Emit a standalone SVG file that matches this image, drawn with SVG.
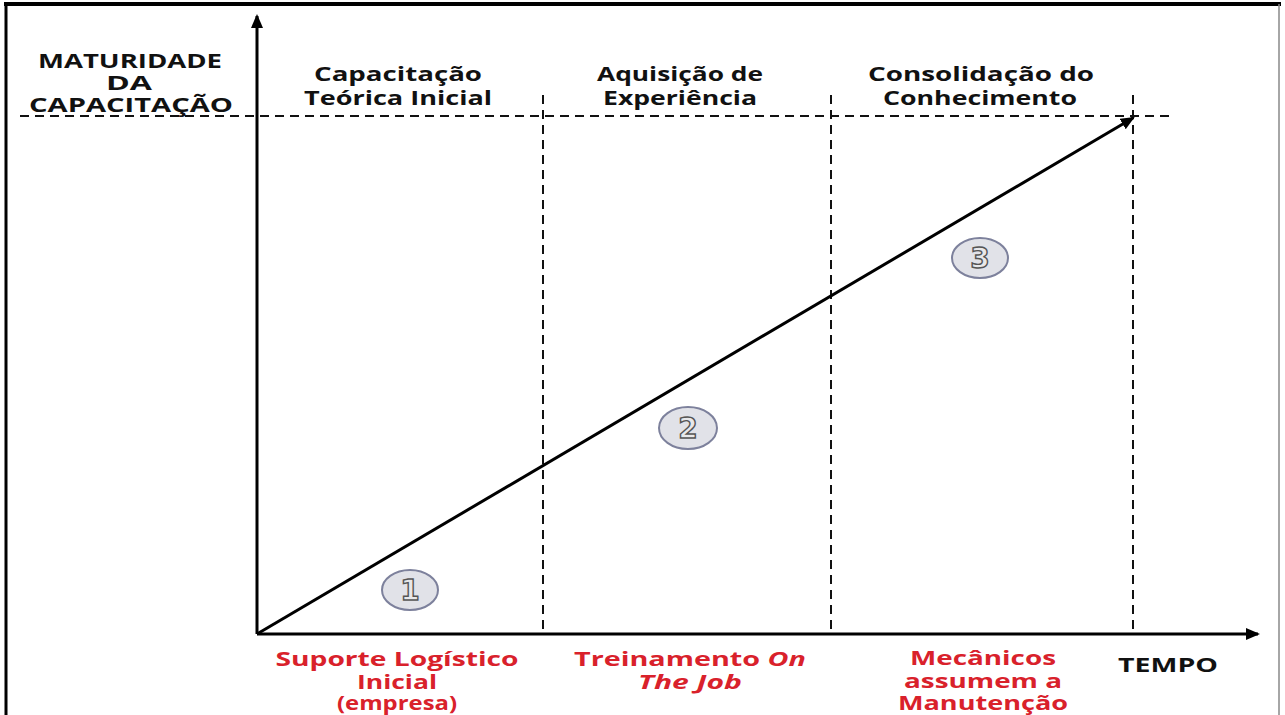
<svg xmlns="http://www.w3.org/2000/svg" width="1285" height="715" viewBox="0 0 1285 715">
<defs>
<marker id="ah2" markerWidth="14" markerHeight="12" refX="12" refY="6" orient="auto" markerUnits="userSpaceOnUse">
<path d="M0,0 L14,6 L0,12 z" fill="#000"/>
</marker>
<style>
.t{font-family:"Open Sans","DejaVu Sans",sans-serif;font-weight:700;font-size:20px;fill:#111;text-anchor:middle}
.r{font-family:"Open Sans","DejaVu Sans",sans-serif;font-weight:700;font-size:20px;fill:#d9212b;text-anchor:middle}
.dash{stroke:#111;stroke-width:2;stroke-dasharray:9 6;fill:none}
.ax{stroke:#000;stroke-width:3;fill:none}
.c{fill:#e1e2e8;stroke:#7d819c;stroke-width:2}
.n{font-family:"DejaVu Sans",sans-serif;font-weight:bold;font-size:28px;fill:#e8e8ea;stroke:#555;stroke-width:1.4;text-anchor:middle}
</style>
</defs>
<rect width="1285" height="715" fill="#fff"/>
<g id="frame">
<line x1="4" y1="4" x2="1281" y2="4" stroke="#000" stroke-width="4"/>
<line x1="6" y1="4" x2="6" y2="715" stroke="#000" stroke-width="3"/>
<line x1="1279" y1="4" x2="1279" y2="715" stroke="#888" stroke-width="1.5"/>
</g>
<g id="connectors">
<line class="dash" x1="20" y1="116" x2="1172" y2="116"/>
<line class="dash" x1="543" y1="95" x2="543" y2="634"/>
<line class="dash" x1="831" y1="95" x2="831" y2="634"/>
<line class="dash" x1="1133" y1="95" x2="1133" y2="634"/>
<line class="ax" x1="257" y1="634" x2="257" y2="16" marker-end="url(#ah2)"/>
<line class="ax" x1="257" y1="634" x2="1258" y2="634" marker-end="url(#ah2)"/>
<line class="ax" x1="257" y1="634" x2="1133" y2="118" marker-end="url(#ah2)"/>
</g>
<g id="ylabel">
<text class="t" x="130" y="68" textLength="184" lengthAdjust="spacingAndGlyphs">MATURIDADE</text>
<text class="t" x="129" y="90" textLength="46" lengthAdjust="spacingAndGlyphs">DA</text>
<text class="t" x="131" y="112" textLength="204" lengthAdjust="spacingAndGlyphs">CAPACITAÇÃO</text>
</g>
<g id="phase1">
<text class="t" x="398" y="81" textLength="168" lengthAdjust="spacingAndGlyphs">Capacitação</text>
<text class="t" x="398" y="105" textLength="188" lengthAdjust="spacingAndGlyphs">Teórica Inicial</text>
</g>
<g id="phase2">
<text class="t" x="680" y="81" textLength="166" lengthAdjust="spacingAndGlyphs">Aquisição de</text>
<text class="t" x="680" y="105" textLength="154" lengthAdjust="spacingAndGlyphs">Experiência</text>
</g>
<g id="phase3">
<text class="t" x="981" y="81" textLength="226" lengthAdjust="spacingAndGlyphs">Consolidação do</text>
<text class="t" x="980" y="105" textLength="194" lengthAdjust="spacingAndGlyphs">Conhecimento</text>
</g>
<g id="node1">
<ellipse class="c" cx="410" cy="590" rx="28" ry="20"/>
<text class="n" x="410" y="600">1</text>
</g>
<g id="node2">
<ellipse class="c" cx="688" cy="428" rx="29" ry="21"/>
<text class="n" x="688" y="438">2</text>
</g>
<g id="node3">
<ellipse class="c" cx="980" cy="258" rx="28" ry="20"/>
<text class="n" x="980" y="268">3</text>
</g>
<g id="bottom1">
<text class="r" x="397" y="666" textLength="243" lengthAdjust="spacingAndGlyphs">Suporte Logístico</text>
<text class="r" x="397" y="689" textLength="80" lengthAdjust="spacingAndGlyphs">Inicial</text>
<text class="r" x="397" y="710" textLength="120" lengthAdjust="spacingAndGlyphs">(empresa)</text>
</g>
<g id="bottom2">
<text class="r" x="690" y="666" textLength="232" lengthAdjust="spacingAndGlyphs">Treinamento <tspan font-style="italic">On</tspan></text>
<text class="r" x="690" y="689" font-style="italic" textLength="104" lengthAdjust="spacingAndGlyphs">The Job</text>
</g>
<g id="bottom3">
<text class="r" x="983" y="665" textLength="146" lengthAdjust="spacingAndGlyphs">Mecânicos</text>
<text class="r" x="983" y="688" textLength="158" lengthAdjust="spacingAndGlyphs">assumem a</text>
<text class="r" x="983" y="710" textLength="170" lengthAdjust="spacingAndGlyphs">Manutenção</text>
</g>
<g id="tempo">
<text class="t" x="1168" y="672" textLength="100" lengthAdjust="spacingAndGlyphs">TEMPO</text>
</g>
</svg>
